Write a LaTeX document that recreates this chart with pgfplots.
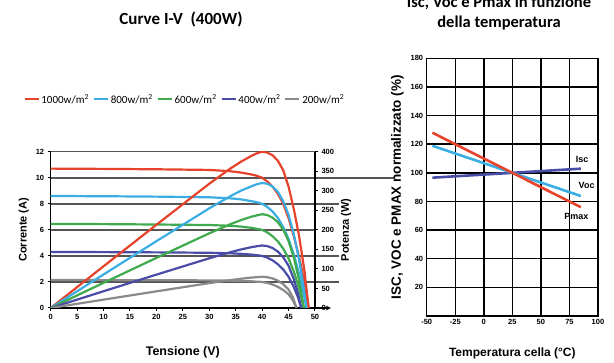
\documentclass[border=0pt]{standalone}
\usepackage{pgfplots}
\pgfplotsset{compat=1.18}
\usepackage{fontspec}
\setmainfont{Liberation Sans}
\newfontfamily\carlito{Carlito}
\definecolor{cred}{HTML}{E5432B}
\definecolor{cblue}{HTML}{3AAEE3}
\definecolor{cgreen}{HTML}{3FAA4E}
\definecolor{cpurple}{HTML}{4A4DA8}
\definecolor{cgray}{HTML}{8A8A8A}
\definecolor{cgrid}{HTML}{555555}
\begin{document}
\begin{tikzpicture}
\path[use as bounding box] (0pt,0pt) rectangle (614pt,363pt);
\pgfplotsset{
  common/.style={
    scale only axis,
    /pgf/number format/assume math mode=true,
    ticklabel style={font=\bfseries\fontsize{7.5}{8}\selectfont},
    label style={font=\bfseries\fontsize{11}{12}\selectfont},
  }
}
% ---------------- left chart: I-V ----------------
\begin{axis}[common, name=iv,
  width=264.3pt, height=156.3pt, at={(50.7pt,55pt)}, anchor=south west,
  xmin=0, xmax=50, ymin=0, ymax=12,
  xtick={0,5,...,50}, ytick={0,2,...,12},
  axis x line*=bottom, axis y line*=left,
  axis line style={black, line width=1.2pt, -},
  tick align=outside, major tick length=3pt, tick style={black, line width=1pt},
  ymajorgrids, grid style={cgrid, line width=1.6pt},
  xlabel={Tensione (V)}, ylabel={Corrente (A)},
  xlabel style={yshift=-20pt, font=\bfseries\fontsize{12.5}{13}\selectfont},
  clip=false,
  legend columns=5,
  legend style={draw=none, fill=none, at={(0.508,1.335)}, anchor=center,
    font=\carlito\fontsize{11}{12}\selectfont,
    /tikz/every even column/.append style={column sep=2pt}},
  legend image code/.code={\draw[#1] (0pt,0pt) -- (14pt,0pt);},
]
\addlegendimage{draw=cred, line width=1.8pt}
\addlegendentry{1000w/m\textsuperscript{2}}
\addlegendimage{draw=cblue, line width=1.8pt}
\addlegendentry{800w/m\textsuperscript{2}}
\addlegendimage{draw=cgreen, line width=1.8pt}
\addlegendentry{600w/m\textsuperscript{2}}
\addlegendimage{draw=cpurple, line width=1.8pt}
\addlegendentry{400w/m\textsuperscript{2}}
\addlegendimage{draw=cgray, line width=1.8pt}
\addlegendentry{200w/m\textsuperscript{2}}
\draw[cgrid, line width=1.6pt] (axis cs:50,10) -- (axis cs:65,10);
\draw[cgrid, line width=1.6pt] (axis cs:50,8) -- (axis cs:54.5,8);
\draw[cgrid, line width=1.6pt] (axis cs:50,4) -- (axis cs:54.5,4);
\draw[cgrid, line width=1.6pt] (axis cs:50,2) -- (axis cs:54.5,2);
\draw[black, line width=1.2pt, -stealth] (axis cs:50,0) -- (axis cs:53,0);
\addplot[color=cred, line width=2.2pt, forget plot] coordinates {(0,10.7)(10,10.68)(20,10.65)(30,10.6)(34,10.5)(36,10.4)(38,10.25)(39,10.15)(40,10.0)(41,9.7)(42,9.3)(43,8.75)(44,8.0)(45,6.9)(46,5.5)(47,3.9)(48,2.0)(48.8,0)};
\addplot[color=cblue, line width=2.2pt, forget plot] coordinates {(0,8.6)(10,8.58)(20,8.55)(30,8.5)(34,8.42)(36,8.34)(38,8.2)(39,8.12)(40,8.0)(41,7.75)(42,7.4)(43,6.9)(44,6.2)(45,5.3)(46,4.1)(47,2.6)(47.8,1.2)(48.4,0)};
\addplot[color=cgreen, line width=2.2pt, forget plot] coordinates {(0,6.45)(10,6.44)(20,6.41)(30,6.37)(34,6.31)(36,6.25)(38,6.15)(39,6.08)(40,6.0)(41,5.8)(42,5.5)(43,5.1)(44,4.55)(45,3.8)(46,2.8)(47,1.5)(47.9,0)};
\addplot[color=cpurple, line width=2.2pt, forget plot] coordinates {(0,4.3)(10,4.29)(20,4.27)(30,4.24)(34,4.2)(36,4.16)(38,4.1)(39,4.05)(40,4.0)(41,3.86)(42,3.65)(43,3.35)(44,2.95)(45,2.4)(46,1.6)(46.8,0.8)(47.4,0)};
\addplot[color=cgray, line width=2.2pt, forget plot] coordinates {(0,2.15)(10,2.14)(20,2.13)(30,2.12)(34,2.1)(36,2.08)(38,2.05)(39,2.02)(40,2.0)(41,1.92)(42,1.8)(43,1.62)(44,1.38)(45,1.05)(45.8,0.6)(46.5,0)};
\end{axis}
% ---------------- left chart: P-V (right axis) ----------------
\begin{axis}[common,
  width=264.3pt, height=156.3pt, at={(iv.south west)}, anchor=south west,
  xmin=0, xmax=50, ymin=0, ymax=400,
  ytick={0,50,...,400},
  axis x line=none, axis y line*=right,
  axis line style={black, line width=1.2pt, -},
  tick align=outside, major tick length=3pt, tick style={black, line width=1pt},
  ylabel={Potenza (W)},
]
\addplot[cred, line width=2.2pt] coordinates {(0,0)(10,106.8)(20,213)(30,318)(34,357)(36,374.4)(38,389.5)(39,395.9)(40,400)(41,397.7)(42,390.6)(43,376.3)(44,352)(45,310.5)(46,253)(47,183.3)(48,96)(48.8,0)};
\addplot[cblue, line width=2.2pt] coordinates {(0,0)(10,85.8)(20,171)(30,255)(34,286.3)(36,300.2)(38,311.6)(39,316.7)(40,320)(41,317.8)(42,310.8)(43,296.7)(44,272.8)(45,238.5)(46,188.6)(47,122.2)(47.8,57.4)(48.4,0)};
\addplot[cgreen, line width=2.2pt] coordinates {(0,0)(10,64.4)(20,128.2)(30,191.1)(34,214.5)(36,225)(38,233.7)(39,237.1)(40,240)(41,237.8)(42,231)(43,219.3)(44,200.2)(45,171)(46,128.8)(47,70.5)(47.9,0)};
\addplot[cpurple, line width=2.2pt] coordinates {(0,0)(10,42.9)(20,85.4)(30,127.2)(34,142.8)(36,149.8)(38,155.8)(39,158)(40,160)(41,158.3)(42,153.3)(43,144)(44,129.8)(45,108)(46,73.6)(46.8,37.4)(47.4,0)};
\addplot[cgray, line width=2.2pt] coordinates {(0,0)(10,21.4)(20,42.6)(30,63.6)(34,71.4)(36,74.9)(38,77.9)(39,78.8)(40,80)(41,78.7)(42,75.6)(43,69.7)(44,60.7)(45,47.3)(45.8,27.5)(46.5,0)};
\end{axis}
% ---------------- right chart ----------------
\begin{axis}[common,
  width=171.3pt, height=257.7pt, at={(426.7pt,47pt)}, anchor=south west,
  xmin=-50, xmax=100, ymin=0, ymax=180,
  xtick={-50,-25,0,25,50,75,100},
  xticklabels={-50,-25,0,25,50,75,100},
  ytick={20,40,...,180},
  grid=major, grid style={black, line width=1.4pt},
  axis line style={black, line width=1.4pt},
  major tick length=0pt,
  xlabel={Temperatura cella (°C)},
  ylabel={ISC, VOC e PMAX normalizzato (\%)},
  label style={font=\bfseries\fontsize{12}{13}\selectfont},
  ylabel style={font=\bfseries\fontsize{13.5}{14}\selectfont},
  xlabel style={yshift=-16pt},
  clip=false,
]
\addplot[cpurple, line width=2.6pt] coordinates {(-45,96.6)(85,102.9)};
\addplot[cblue, line width=2.6pt] coordinates {(-45,118.9)(85,83.8)};
\addplot[cred, line width=2.6pt] coordinates {(-45,128)(85,76)};
\node[font=\bfseries\fontsize{9}{10}\selectfont] at (axis cs:86,109.5) {Isc};
\node[font=\bfseries\fontsize{9}{10}\selectfont] at (axis cs:90,91) {Voc};
\node[font=\bfseries\fontsize{9}{10}\selectfont] at (axis cs:81,69.4) {Pmax};
\end{axis}
% ---------------- titles ----------------
\node[font=\carlito\bfseries\fontsize{17}{19}\selectfont, anchor=base] at (181pt,338pt) {Curve I-V\ \ (400W)};
\node[font=\carlito\bfseries\fontsize{16.5}{18}\selectfont, anchor=base] at (499pt,355pt) {Isc, Voc e Pmax in funzione};
\node[font=\carlito\bfseries\fontsize{16.5}{18}\selectfont, anchor=base] at (499pt,335pt) {della temperatura};
\end{tikzpicture}
\end{document}
